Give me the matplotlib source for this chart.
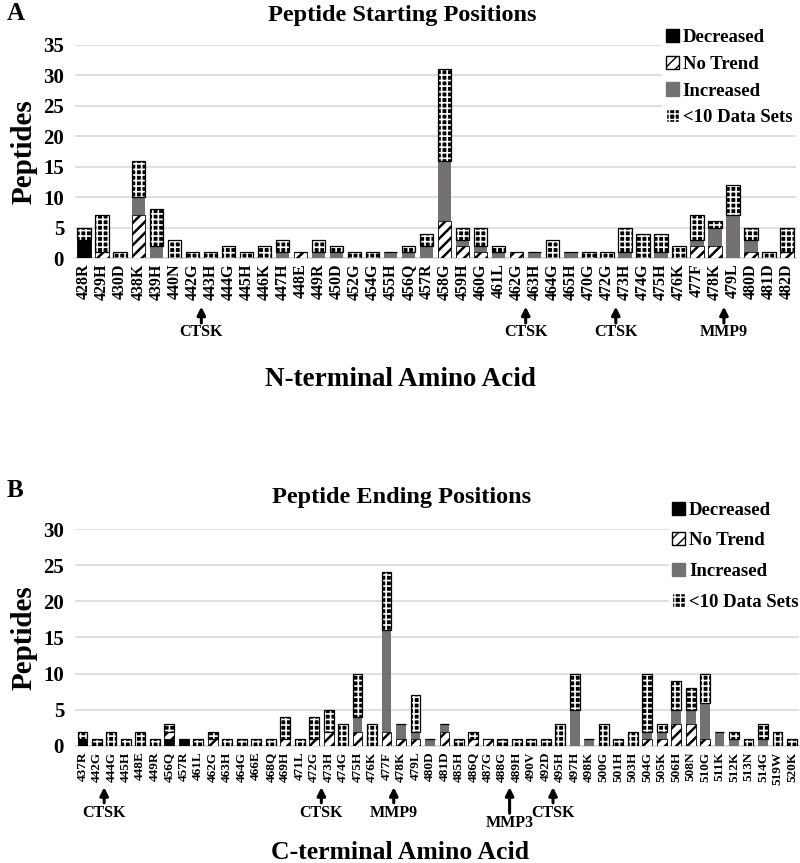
import numpy as np
import matplotlib
matplotlib.use("Agg")
import matplotlib.pyplot as plt
from matplotlib.patches import Patch
import matplotlib.transforms as mtransforms

# Peptide starting positions (N-terminal)
Start_Labels = ["428R", "429H", "430D", "438K", "439H", "440N", "442G", "443H", "444G", "445H",
                "446K", "447H", "448E", "449R", "450D", "452G", "454G", "455H", "456Q", "457R",
                "458G", "459H", "460G", "461L", "462G", "463H", "464G", "465H", "470G", "472G",
                "473H", "474G", "475H", "476K", "477F", "478K", "479L", "480D", "481D", "482D"]
Start_Decreased = [3, 0, 0, 0, 0, 0, 0, 0, 0, 0, 0, 0, 0, 0, 0, 0, 0, 0, 0, 0,
                   0, 0, 0, 0, 0, 0, 0, 0, 0, 0, 0, 0, 0, 0, 0, 0, 0, 0, 0, 0]
Start_NoTrend = [0, 1, 0, 7, 0, 0, 0, 0, 0, 0, 0, 0, 1, 0, 0, 0, 0, 0, 0, 0,
                 6, 2, 1, 0, 1, 0, 0, 0, 0, 0, 0, 0, 0, 0, 2, 2, 0, 1, 0, 1]
Start_Increased = [0, 0, 0, 3, 2, 0, 0, 0, 0, 0, 0, 1, 0, 1, 1, 0, 0, 1, 1, 2,
                   10, 1, 1, 1, 0, 1, 0, 1, 0, 0, 1, 0, 1, 0, 1, 3, 7, 2, 0, 0]
Start_Less10 = [2, 6, 1, 6, 6, 3, 1, 1, 2, 1, 2, 2, 0, 2, 1, 1, 1, 0, 1, 2,
                15, 2, 3, 1, 0, 0, 3, 0, 1, 1, 4, 4, 3, 2, 4, 1, 5, 2, 1, 4]
Start_Enzymes = [("CTSK", 6.5), ("CTSK", 24.5), ("CTSK", 29.5), ("MMP9", 35.5)]

# Peptide ending positions (C-terminal)
End_Labels = ["437R", "442G", "444G", "445H", "448E", "449R", "456Q", "457R", "461L", "462G",
              "463H", "464G", "466E", "468Q", "469H", "471L", "472G", "473H", "474G", "475H",
              "476K", "477F", "478K", "479L", "480D", "481D", "485H", "486Q", "487G", "488G",
              "489H", "490V", "492D", "495H", "497H", "498K", "500G", "501H", "503H", "504G",
              "505K", "506H", "508N", "510G", "511K", "512K", "513N", "514G", "519W", "520K"]
End_Decreased = [1, 0, 0, 0, 0, 0, 1, 1, 0, 0, 0, 0, 0, 0, 0, 0, 0, 0, 0, 0,
                 0, 0, 0, 0, 0, 0, 0, 0, 0, 0, 0, 0, 0, 0, 0, 0, 0, 0, 0, 0,
                 0, 0, 0, 0, 0, 0, 0, 0, 0, 0]
End_NoTrend = [0, 0, 0, 0, 0, 0, 1, 0, 0, 1, 0, 0, 0, 0, 1, 0, 1, 2, 0, 2,
               0, 2, 1, 1, 0, 2, 0, 1, 1, 0, 0, 0, 0, 0, 0, 0, 0, 0, 0, 1,
               1, 3, 3, 1, 0, 0, 0, 0, 0, 0]
End_Increased = [0, 0, 0, 0, 0, 0, 0, 0, 0, 0, 0, 0, 0, 0, 0, 0, 0, 0, 0, 2,
                 0, 14, 2, 1, 1, 1, 0, 0, 0, 0, 0, 0, 0, 0, 5, 1, 0, 0, 0, 1,
                 1, 2, 2, 5, 2, 1, 0, 1, 0, 0]
End_Less10 = [1, 1, 2, 1, 2, 1, 1, 0, 1, 1, 1, 1, 1, 1, 3, 1, 3, 3, 3, 6,
              3, 8, 0, 5, 0, 0, 1, 1, 0, 1, 1, 1, 1, 3, 5, 0, 3, 1, 2, 8,
              1, 4, 3, 4, 0, 1, 1, 2, 2, 1]
End_Enzymes = [("CTSK", 1.5, 0), ("CTSK", 16.5, 0), ("MMP9", 21.5, 0), ("MMP3", 29.5, 1), ("CTSK", 32.5, 0)]

plt.rcParams["font.family"] = ["Liberation Serif", "DejaVu Serif"]
plt.rcParams["font.weight"] = "bold"

Gray = "#767171"


def draw_stack(ax, dec, nt, inc, less, width):
    x = np.arange(len(dec))
    dec = np.array(dec)
    nt = np.array(nt)
    inc = np.array(inc)
    less = np.array(less)
    ax.bar(x, dec, width, color="black", edgecolor="black", linewidth=0.6, zorder=3)
    with plt.rc_context({"hatch.linewidth": 1.8}):
        ax.bar(x, nt, width, bottom=dec, color="white", edgecolor="black", hatch="///",
               linewidth=0.6, zorder=3)
    ax.bar(x, inc, width, bottom=dec + nt, color=Gray, linewidth=0, zorder=3)
    b = dec + nt + inc
    with plt.rc_context({"hatch.linewidth": 1.2}):
        ax.bar(x, less, width, bottom=b, color="black", edgecolor="white", hatch="+++",
               linewidth=0, zorder=3)
    ax.bar(x, less, width, bottom=b, fill=False, edgecolor="black", linewidth=0.9, zorder=4)


def style_axis(ax, labels, ymax, tick_size):
    ax.set_xlim(-0.5, len(labels) - 0.5)
    ax.set_ylim(0, ymax)
    ax.set_yticks(np.arange(0, ymax + 1, 5))
    ax.set_xticks(np.arange(len(labels)))
    ax.set_xticklabels(labels, rotation=90, fontsize=tick_size, fontweight="bold")
    ax.tick_params(axis="y", labelsize=15, length=0, pad=8)
    ax.tick_params(axis="x", length=0, pad=4)
    ax.grid(axis="y", color="#d9d9d9", linewidth=1.2, zorder=0)
    ax.set_axisbelow(True)
    for s in ["top", "right", "left"]:
        ax.spines[s].set_visible(False)
    ax.spines["bottom"].set_color("#d9d9d9")
    ax.spines["bottom"].set_linewidth(1.2)
    ax.set_ylabel("Peptides", fontsize=21, fontweight="bold", labelpad=4)


def add_enzyme(ax, trans, name, pos, tip, tail, text_y):
    ax.annotate("", xy=(pos, tip), xytext=(pos, tail), xycoords=trans, textcoords=trans,
                arrowprops=dict(arrowstyle="-|>", color="black", lw=2.2, mutation_scale=12,
                                shrinkA=0, shrinkB=0))
    ax.text(pos, text_y, name, transform=trans, ha="center", va="center", fontsize=11.5,
            fontweight="bold", clip_on=False)


fig = plt.figure(figsize=(8, 8.63), dpi=100)

Legend_Handles = [Patch(facecolor="black", edgecolor="black", label="Decreased"),
                  Patch(facecolor="white", edgecolor="black", hatch="///", label="No Trend"),
                  Patch(facecolor=Gray, edgecolor=Gray, label="Increased"),
                  Patch(facecolor="black", edgecolor="white", hatch="+++", label="<10 Data Sets")]
Legend_Kw = dict(loc="upper left", frameon=True, fancybox=False, edgecolor="white", framealpha=1,
                 prop={"size": 13.5, "weight": "bold"}, handlelength=0.7, handleheight=0.7,
                 handletextpad=0.2, borderpad=0.2)

# Panel A
axA = fig.add_axes([0.094, 0.701, 0.901, 0.247])
draw_stack(axA, Start_Decreased, Start_NoTrend, Start_Increased, Start_Less10, 0.75)
style_axis(axA, Start_Labels, 35, 11.5)
fig.text(402 / 800, 1 - 15 / 863, "Peptide Starting Positions", fontsize=17.5, fontweight="bold",
         ha="center", va="center")
axA.set_xlabel("N-terminal Amino Acid", fontsize=19.5, fontweight="bold")
axA.xaxis.set_label_coords(400 / 800 / 0.901 - 0.094 / 0.901, -0.51)
transA = mtransforms.blended_transform_factory(axA.transData, axA.transAxes)
for name, pos in Start_Enzymes:
    add_enzyme(axA, transA, name, pos, -0.228, -0.305, -0.345)
axA.legend(handles=Legend_Handles, bbox_to_anchor=(0.816, 0.982), bbox_transform=fig.transFigure,
           labelspacing=0.52, **Legend_Kw)
fig.text(0.008, 0.998, "A", fontsize=18, fontweight="bold", va="top")

# Panel B
axB = fig.add_axes([0.094, 0.1356, 0.905, 0.2514])
draw_stack(axB, End_Decreased, End_NoTrend, End_Increased, End_Less10, 0.68)
style_axis(axB, End_Labels, 30, 9.5)
fig.text(402 / 800, 1 - 497 / 863, "Peptide Ending Positions", fontsize=17.5, fontweight="bold",
         ha="center", va="center")
axB.set_xlabel("C-terminal Amino Acid", fontsize=18.5, fontweight="bold")
axB.xaxis.set_label_coords(400 / 800 / 0.905 - 0.094 / 0.905, -0.44)
transB = mtransforms.blended_transform_factory(axB.transData, axB.transAxes)
for name, pos, low in End_Enzymes:
    if low:
        add_enzyme(axB, transB, name, pos, -0.19, -0.31, -0.355)
    else:
        add_enzyme(axB, transB, name, pos, -0.19, -0.262, -0.31)
axB.legend(handles=Legend_Handles, bbox_to_anchor=(0.824, 0.434), bbox_transform=fig.transFigure,
           labelspacing=0.72, **Legend_Kw)
fig.text(0.008, 0.445, "B", fontsize=18, fontweight="bold", va="top")

plt.savefig("out.png", dpi=100)
